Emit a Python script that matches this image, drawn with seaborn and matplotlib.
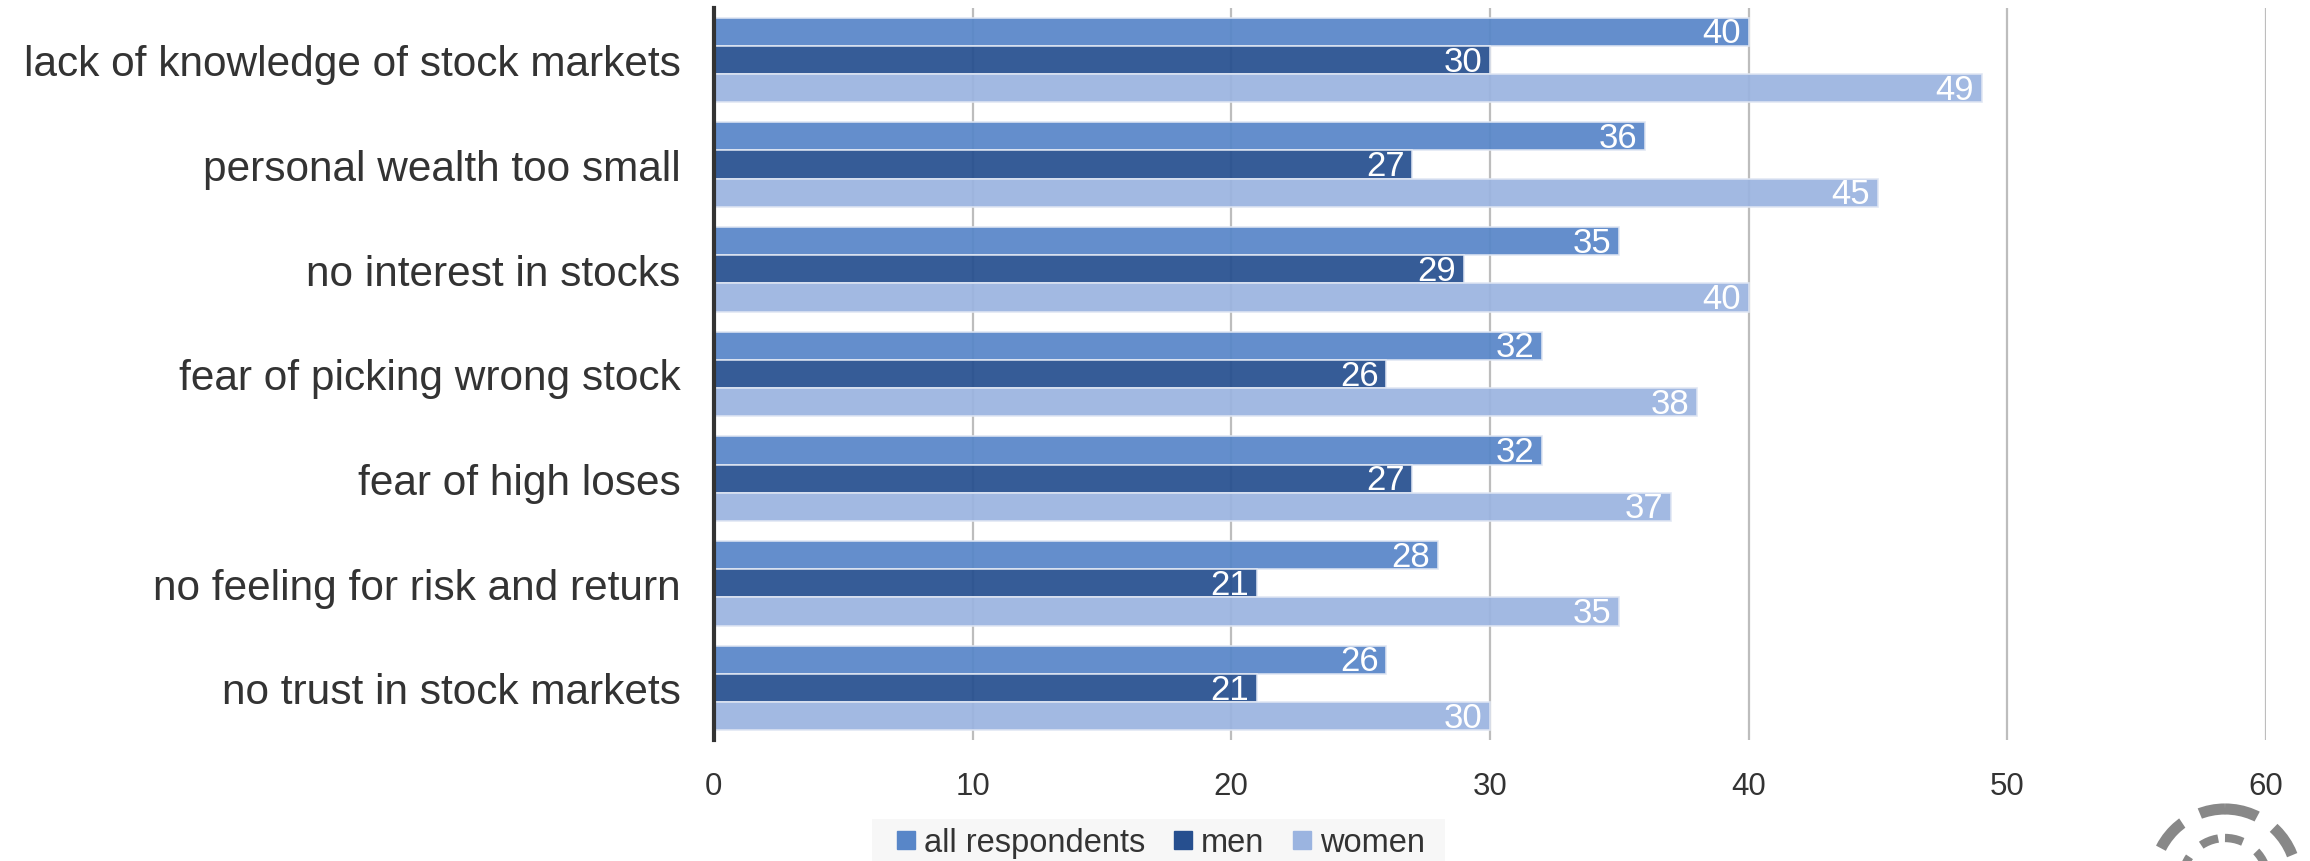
import matplotlib
matplotlib.use("Agg")
import matplotlib.pyplot as plt
import seaborn as sns
import pandas as pd
from matplotlib.lines import Line2D
from matplotlib.patches import Circle, Rectangle

categories = ["lack of knowledge of stock markets", "personal wealth too small",
              "no interest in stocks", "fear of picking wrong stock",
              "fear of high loses", "no feeling for risk and return",
              "no trust in stock markets"]
series_names = ["all respondents", "men", "women"]
all_resp = [40, 36, 35, 32, 32, 28, 26]
men = [30, 27, 29, 26, 27, 21, 21]
women = [49, 45, 40, 38, 37, 35, 30]
xticks = [0, 10, 20, 30, 40, 50, 60]
colors = ["#5886C8", "#264F8F", "#9BB4E0"]

rows = []
for s, vals in zip(series_names, [all_resp, men, women]):
    for c, v in zip(categories, vals):
        rows.append({"category": c, "series": s, "value": v})
df = pd.DataFrame(rows)

sns.set_theme(style="white")
plt.rcParams['font.family'] = ['Liberation Sans', 'DejaVu Sans']

fig = plt.figure(figsize=(23.1, 8.62), dpi=100)

# background overlay axes for legend box and watermark (pixel coordinates)
bg = fig.add_axes([0, 0, 1, 1], zorder=-1)
bg.set_xlim(0, 2310)
bg.set_ylim(862, 0)
bg.axis("off")
bg.add_patch(Rectangle((872, 820), 573, 50, facecolor="#f7f7f7", edgecolor="none"))
bg.add_patch(Circle((2225, 882), 72, fill=False, edgecolor="#888888", linewidth=8,
                    linestyle=(0, (3.0, 1.8))))
bg.add_patch(Circle((2225, 882), 43, fill=False, edgecolor="#888888", linewidth=6,
                    linestyle=(0, (2.2, 2.0))))

ax = fig.add_axes([0.309, 0.14, 0.672, 0.85])
ax.patch.set_alpha(0)

sns.barplot(data=df, y="category", x="value", hue="series", order=categories,
            hue_order=series_names, palette=colors, width=0.81, orient="h",
            ax=ax, legend=False, saturation=1, edgecolor="#dfe6f3", linewidth=1.2,
            alpha=0.93)

ax.set_xlim(0, 60)
ax.set_ylim(6.5, -0.5)
ax.set_xticks(xticks)
ax.set_xticklabels([str(t) for t in xticks], fontsize=22.5, color="#333333")
ax.tick_params(axis="x", length=0, pad=22)
ax.tick_params(axis="y", length=0, pad=24, labelsize=30.5, labelcolor="#333333")
ax.set_xlabel("")
ax.set_ylabel("")
ax.xaxis.grid(True, color="#bdbdbd", linewidth=1.6)
ax.set_axisbelow(True)
for sp in ["top", "right", "bottom"]:
    ax.spines[sp].set_visible(False)
ax.spines["left"].set_color("#333333")
ax.spines["left"].set_linewidth(3)
ax.spines["left"].set_zorder(5)

for cont in ax.containers:
    for bar in cont:
        w = bar.get_width()
        y = bar.get_y() + bar.get_height() / 2
        ax.text(w - 0.3, y + 0.01, f"{w:.0f}", ha="right", va="center",
                color="white", fontsize=25, zorder=6)

handles = [Line2D([0], [0], marker="s", linestyle="", markersize=13,
                  markerfacecolor=c, markeredgecolor=c) for c in colors]
leg = fig.legend(handles, series_names, loc="center", bbox_to_anchor=(0.502, 0.021),
                 ncol=3, frameon=False, fontsize=23.5, handletextpad=0.2,
                 columnspacing=0.8, borderpad=0.2, handlelength=0.7)
for t in leg.get_texts():
    t.set_color("#333333")

fig.savefig("out.png", dpi=100)
